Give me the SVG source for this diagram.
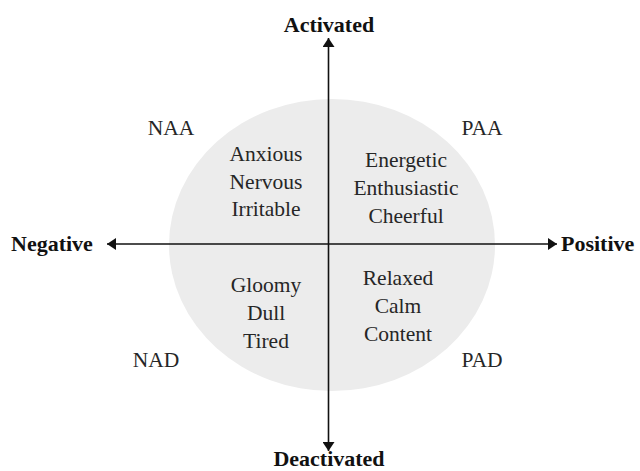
<svg xmlns="http://www.w3.org/2000/svg" width="640" height="471" viewBox="0 0 640 471">
<style>
  .axis { stroke: #111; stroke-width: 1.6; fill: none; }
  .title { font-family: "Liberation Serif", "Times New Roman", serif; font-weight: bold; font-size: 22px; fill: #111; }
  .lbl { font-family: "Liberation Serif", "Times New Roman", serif; font-size: 21.5px; fill: #262626; text-anchor: middle; }
</style>
<defs>
  <marker id="arr" viewBox="0 0 10 10" refX="10" refY="5" markerUnits="userSpaceOnUse" markerWidth="9" markerHeight="12" preserveAspectRatio="none" orient="auto-start-reverse">
    <path d="M0,0 L10,5 L0,10 z" fill="#111"/>
  </marker>
</defs>
<rect width="640" height="471" fill="#ffffff"/>
<g id="circle">
  <ellipse cx="332" cy="245" rx="163" ry="146" fill="#ececec"/>
</g>
<g id="connectors">
  <line class="axis" x1="328.5" y1="38" x2="328.5" y2="451" marker-start="url(#arr)" marker-end="url(#arr)"/>
  <line class="axis" x1="107" y1="244" x2="557" y2="244" marker-start="url(#arr)" marker-end="url(#arr)"/>
</g>
<g id="axis-labels">
  <text id="activated" class="title" x="329" y="32" text-anchor="middle">Activated</text>
  <text id="deactivated" class="title" x="329" y="466" text-anchor="middle" font-size="21.5">Deactivated</text>
  <text id="negative" class="title" x="11" y="251">Negative</text>
  <text id="positive" class="title" x="561" y="251">Positive</text>
</g>
<g id="naa"><text class="lbl" x="171" y="135">NAA</text></g>
<g id="paa"><text class="lbl" x="482" y="135">PAA</text></g>
<g id="nad"><text class="lbl" x="156" y="367">NAD</text></g>
<g id="pad"><text class="lbl" x="482" y="367">PAD</text></g>
<g id="q-naa">
  <text class="lbl" x="266" y="161">Anxious</text>
  <text class="lbl" x="266" y="188.5">Nervous</text>
  <text class="lbl" x="266" y="216">Irritable</text>
</g>
<g id="q-paa">
  <text class="lbl" x="406" y="167">Energetic</text>
  <text class="lbl" x="406" y="195">Enthusiastic</text>
  <text class="lbl" x="406" y="222.5">Cheerful</text>
</g>
<g id="q-nad">
  <text class="lbl" x="266" y="292">Gloomy</text>
  <text class="lbl" x="266" y="320">Dull</text>
  <text class="lbl" x="266" y="347.5">Tired</text>
</g>
<g id="q-pad">
  <text class="lbl" x="398" y="285">Relaxed</text>
  <text class="lbl" x="398" y="313">Calm</text>
  <text class="lbl" x="398" y="341">Content</text>
</g>
</svg>
